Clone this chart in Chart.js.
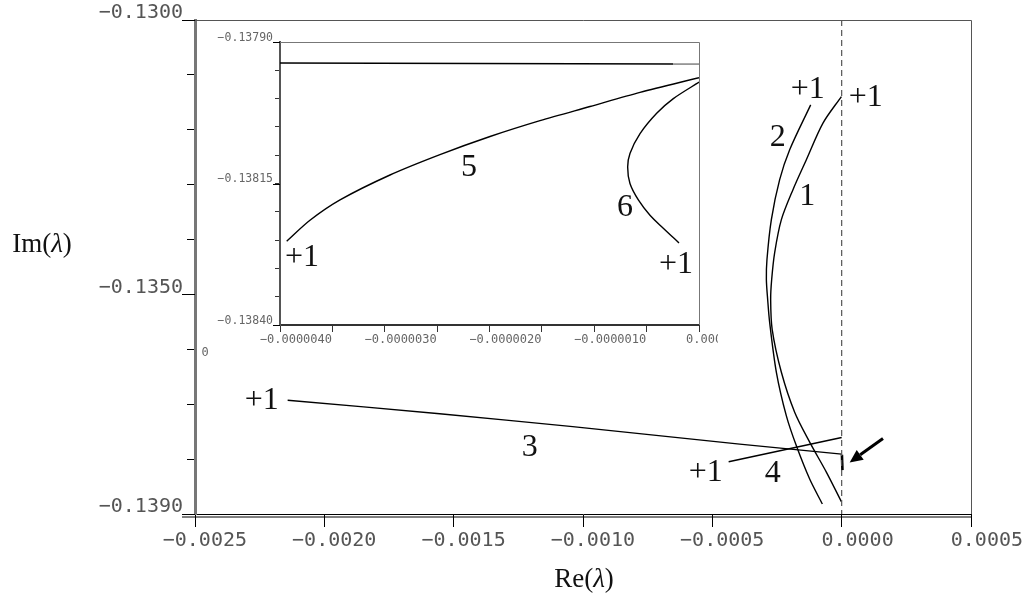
<!DOCTYPE html>
<html>
<head>
<meta charset="utf-8">
<script src="https://cdn.jsdelivr.net/npm/chart.js@4/dist/chart.umd.min.js"></script>
<style>
  html, body { margin: 0; padding: 0; background: #fff; }
  #wrap { position: relative; width: 1029px; height: 597px; }
  #main { position: absolute; left: 0; top: 0; }
  #inset { position: absolute; left: 199px; top: 28px; }
</style>
</head>
<body>
<div id="wrap">
  <canvas id="main" width="1029" height="597" style="width:1029px;height:597px"></canvas>
  <canvas id="inset" width="519" height="334" style="width:519px;height:334px"></canvas>
</div>
<script>
// ---------- main plot: Re(lambda) vs Im(lambda) ----------
const mainXTicks = [-0.0025, -0.0020, -0.0015, -0.0010, -0.0005, 0.0000, 0.0005];
const mainYTicks = [-0.130, -0.131, -0.132, -0.133, -0.134, -0.135, -0.136, -0.137, -0.138, -0.139];
const mainYLabelled = [-0.130, -0.135, -0.139];

// branch 1
const c1Re = [-0.000001, -0.0000723, -0.0001365, -0.0001883, -0.0002331, -0.000259, -0.0002706, -0.0002745, -0.0002687, -0.0002331, -0.0001817, -0.0001237, -0.0000592, -0.000001];
const c1Im = [-0.1313945, -0.1318782, -0.1325455, -0.1330909, -0.1336364, -0.1342364, -0.1347273, -0.1350909, -0.1356364, -0.1364182, -0.1371455, -0.1376909, -0.1382364, -0.1387764];
// branch 2
const c2Re = [-0.0001198, -0.000201, -0.0002397, -0.0002718, -0.0002888, -0.0002911, -0.0002861, -0.0002784, -0.0002524, -0.0002138, -0.0001751, -0.0001237, -0.0000746];
const c2Im = [-0.1315455, -0.1323636, -0.1329091, -0.1336364, -0.1343636, -0.1347273, -0.1350909, -0.1355091, -0.1364182, -0.1372127, -0.1377582, -0.1383636, -0.1388182];
// branch 3
const c3Re = [-0.0021418, -0.0015541, -0.00104, -0.0003943, 0];
const c3Im = [-0.1369273, -0.1371727, -0.1374091, -0.1377273, -0.1379091];
// short piece the arrow points at
const markRe = [0.0000010, 0.0000030];
const markIm = [-0.13792, -0.13820];
// branch 4
const c4Re = [-0.0004369, 0];
const c4Im = [-0.1380491, -0.1376055];
// Re = 0 reference line
const zeroRe = [0, 0];
const zeroIm = [-0.130, -0.139];
// arrow (tail, head)
const arrowRe = [0.0001597, 0.0000309];
const arrowIm = [-0.1376236, -0.1380600];

// curve labels
const labelText = ['+1', '+1', '2', '1', '+1', '4', '3', '+1'];
const labelRe = [-0.0001314, 0.0000928, -0.0002474, -0.0001334, -0.0005258, -0.0002668, -0.0012062, -0.0022423];
const labelIm = [-0.1312727, -0.1314182, -0.1321455, -0.1332091, -0.1382545, -0.1382727, -0.1377818, -0.1369273];

// ---------- inset ----------
const insetXTicks = [-0.0000040, -0.0000035, -0.0000030, -0.0000025, -0.0000020, -0.0000015, -0.0000010, -0.0000005, 0];
const insetXLabelled = [-0.0000040, -0.0000030, -0.0000020, -0.0000010, 0];
const insetYTicks = [-0.13790, -0.13795, -0.13800, -0.13805, -0.13810, -0.13815, -0.13820, -0.13825, -0.13830, -0.13835, -0.13840];
const insetYLabelled = [-0.13790, -0.13815, -0.13840];

// branch 5
const c5Re = [-0.000003936, -0.000003714, -0.000003427, -0.00000295, -0.000002473, -0.000001995, -0.000001518, -0.000001041, -0.000000563, 0];
const c5Im = [-0.138252, -0.138215, -0.138179, -0.138135, -0.138099, -0.138067, -0.138039, -0.138014, -0.137989, -0.137963];
// branch 6
const c6Re = [0, -0.000000245, -0.000000404, -0.000000563, -0.000000659, -0.000000681, -0.000000659, -0.000000579, -0.000000468, -0.000000341, -0.000000191];
const c6Im = [-0.137971, -0.138, -0.138026, -0.138062, -0.138097, -0.138121, -0.13815, -0.138179, -0.138206, -0.138229, -0.138255];
// nearly flat branch near the top
const flatRe = [-0.0000040, -0.000000248];
const flatIm = [-0.137937, -0.137939];
const flatTailRe = [-0.000000248, 0];
const flatTailIm = [-0.137939, -0.137939];

const insetLabelText = ['5', '6', '+1', '+1'];
const insetLabelRe = [-0.0000021958, -0.0000007065, -0.00000379, -0.0000002196];
const insetLabelIm = [-0.138122, -0.1381917, -0.1382809, -0.138294];

// ---------- helpers ----------
const zip = (xs, ys) => xs.map((x, i) => ({ x: x, y: ys[i] }));
const near = (v, list) => list.some(l => Math.abs(l - v) < 1e-12);
const fmt = (v, d) => {
  const s = Math.abs(v) < 1e-15 ? (0).toFixed(d) : v.toFixed(d);
  return s.replace('-', '\u2212');
};
const mono = 'DejaVu Sans Mono';
const serif = '"Liberation Serif", "Times New Roman", serif';

function line(re, im, extra) {
  return Object.assign({
    data: zip(re, im),
    showLine: true,
    pointRadius: 0,
    borderColor: '#000',
    borderWidth: 1.4,
    tension: 0.3,
    fill: false
  }, extra || {});
}

// text in serif, with λ in italic
function mathText(ctx, parts, cx, cy, size) {
  let w = 0;
  parts.forEach(p => {
    ctx.font = (p[1] ? 'italic ' : '') + size + 'px ' + serif;
    w += ctx.measureText(p[0]).width;
  });
  let x = cx - w / 2;
  ctx.textAlign = 'left';
  ctx.textBaseline = 'middle';
  parts.forEach(p => {
    ctx.font = (p[1] ? 'italic ' : '') + size + 'px ' + serif;
    ctx.fillText(p[0], x, cy);
    x += ctx.measureText(p[0]).width;
  });
}

// draws frame edges, curve labels and any extra decoration
const decor = {
  id: 'decor',
  afterDraw(chart, args, opts) {
    const { ctx, chartArea: a, scales } = chart;
    const sx = scales.x, sy = scales.y;
    ctx.save();
    // top and right edges of the frame
    ctx.lineWidth = 1;
    ctx.strokeStyle = opts.frameColor;
    ctx.beginPath();
    ctx.moveTo(a.left, a.top + 0.5);
    ctx.lineTo(a.right + 0.5, a.top + 0.5);
    ctx.lineTo(a.right + 0.5, a.bottom);
    ctx.stroke();
    // longer marks under the labelled y ticks
    ctx.strokeStyle = '#000';
    ctx.beginPath();
    opts.yLabelled.forEach(v => {
      const py = Math.round(sy.getPixelForValue(v)) + 0.5;
      ctx.moveTo(a.left - opts.longTick, py);
      ctx.lineTo(a.left, py);
    });
    ctx.stroke();
    // curve labels
    ctx.fillStyle = '#111';
    ctx.font = opts.labelSize + 'px ' + serif;
    ctx.textAlign = 'center';
    ctx.textBaseline = 'middle';
    opts.text.forEach((t, i) => {
      ctx.fillText(t, sx.getPixelForValue(opts.re[i]), sy.getPixelForValue(opts.im[i]));
    });
    if (opts.extra) opts.extra(ctx, chart);
    ctx.restore();
  }
};

// ---------- main chart ----------
new Chart(document.getElementById('main'), {
  type: 'scatter',
  data: {
    datasets: [
      line(zeroRe, zeroIm, { borderColor: '#555', borderWidth: 1.2, borderDash: [6, 4], tension: 0 }),
      line(c1Re, c1Im),
      line(c2Re, c2Im),
      line(c3Re, c3Im, { tension: 0.2 }),
      line(c4Re, c4Im, { tension: 0 }),
      line(markRe, markIm, { borderWidth: 2.6, tension: 0 })
    ]
  },
  options: {
    responsive: false,
    animation: false,
    devicePixelRatio: 1,
    layout: { padding: { left: 0, right: 58, top: 20, bottom: 0 } },
    plugins: {
      legend: { display: false },
      tooltip: { enabled: false },
      decor: {
        frameColor: '#555',
        yLabelled: mainYLabelled,
        longTick: 13,
        labelSize: 32,
        text: labelText, re: labelRe, im: labelIm,
        extra: (ctx, chart) => {
          const { chartArea: a, scales: { x, y } } = chart;
          // second line of the bottom axis
          ctx.strokeStyle = '#000';
          ctx.lineWidth = 1;
          ctx.beginPath();
          ctx.moveTo(a.left - 13, a.bottom + 3);
          ctx.lineTo(a.right + 1, a.bottom + 3);
          ctx.stroke();
          // arrow
          const x0 = x.getPixelForValue(arrowRe[0]), y0 = y.getPixelForValue(arrowIm[0]);
          const x1 = x.getPixelForValue(arrowRe[1]), y1 = y.getPixelForValue(arrowIm[1]);
          const ang = Math.atan2(y1 - y0, x1 - x0);
          const hl = 13, hw = 6;
          const bx = x1 - hl * Math.cos(ang), by = y1 - hl * Math.sin(ang);
          ctx.lineWidth = 3;
          ctx.beginPath();
          ctx.moveTo(x0, y0);
          ctx.lineTo(bx, by);
          ctx.stroke();
          ctx.fillStyle = '#000';
          ctx.beginPath();
          ctx.moveTo(x1, y1);
          ctx.lineTo(bx + hw * Math.sin(ang), by - hw * Math.cos(ang));
          ctx.lineTo(bx - hw * Math.sin(ang), by + hw * Math.cos(ang));
          ctx.closePath();
          ctx.fill();
          // axis titles
          ctx.fillStyle = '#111';
          mathText(ctx, [['Im(', false], ['\u03bb', true], [')', false]], 42, 245, 27);
          mathText(ctx, [['Re(', false], ['\u03bb', true], [')', false]], 584, 580, 27);
        }
      }
    },
    scales: {
      x: {
        type: 'linear',
        min: -0.0025, max: 0.0005,
        afterBuildTicks: s => { s.ticks = mainXTicks.map(v => ({ value: v })); },
        afterFit: s => { s.height = 83; },
        grid: { drawOnChartArea: false, drawTicks: true, tickLength: 13, tickColor: '#000', tickWidth: 1 },
        border: { display: true, color: '#000', width: 1 },
        ticks: {
          autoSkip: false, maxRotation: 0, minRotation: 0,
          align: 'end', labelOffset: 52, padding: 2,
          color: '#555', font: { family: mono, size: 20 },
          callback: v => fmt(v, 4)
        }
      },
      y: {
        type: 'linear',
        min: -0.139, max: -0.130,
        afterBuildTicks: s => { s.ticks = mainYTicks.map(v => ({ value: v })); },
        afterFit: s => { s.width = 195; },
        grid: { drawOnChartArea: false, drawTicks: true, tickLength: 8, tickColor: '#000', tickWidth: 1 },
        border: { display: true, color: '#777', width: 3 },
        ticks: {
          autoSkip: false, padding: 4, labelOffset: -7,
          color: '#555', font: { family: mono, size: 20 },
          callback: v => near(v, mainYLabelled) ? fmt(v, 4) : ''
        }
      }
    }
  },
  plugins: [decor]
});

// ---------- inset chart ----------
new Chart(document.getElementById('inset'), {
  type: 'scatter',
  data: {
    datasets: [
      line(flatRe, flatIm, { tension: 0 }),
      line(flatTailRe, flatTailIm, { borderColor: '#777', tension: 0 }),
      line(c5Re, c5Im),
      line(c6Re, c6Im)
    ]
  },
  options: {
    responsive: false,
    animation: false,
    devicePixelRatio: 1,
    layout: { padding: { left: 0, right: 19, top: 14, bottom: 0 } },
    plugins: {
      legend: { display: false },
      tooltip: { enabled: false },
      decor: {
        frameColor: '#777',
        yLabelled: insetYLabelled,
        longTick: 7,
        labelSize: 32,
        text: insetLabelText, re: insetLabelRe, im: insetLabelIm,
        extra: (ctx) => {
          ctx.fillStyle = '#666';
          ctx.font = '12px ' + mono;
          ctx.textAlign = 'center';
          ctx.textBaseline = 'middle';
          ctx.fillText('0', 6, 325);
        }
      }
    },
    scales: {
      x: {
        type: 'linear',
        min: -0.000004, max: 0,
        afterBuildTicks: s => { s.ticks = insetXTicks.map(v => ({ value: v })); },
        afterFit: s => { s.height = 37; },
        grid: { drawOnChartArea: false, drawTicks: true, tickLength: 7, tickColor: '#333', tickWidth: 1 },
        border: { display: true, color: '#333', width: 2 },
        ticks: {
          autoSkip: false, maxRotation: 0, minRotation: 0,
          align: 'end', labelOffset: 52, padding: 1,
          color: '#666', font: { family: mono, size: 12 },
          callback: v => near(v, insetXLabelled) ? fmt(v, 7) : ''
        }
      },
      y: {
        type: 'linear',
        min: -0.1384, max: -0.1379,
        afterBuildTicks: s => { s.ticks = insetYTicks.map(v => ({ value: v })); },
        afterFit: s => { s.width = 81; },
        grid: { drawOnChartArea: false, drawTicks: true, tickLength: 5, tickColor: '#333', tickWidth: 1 },
        border: { display: true, color: '#555', width: 2 },
        ticks: {
          autoSkip: false, padding: 2, labelOffset: -4,
          color: '#666', font: { family: mono, size: 11.5 },
          callback: v => near(v, insetYLabelled) ? fmt(v, 5) : ''
        }
      }
    }
  },
  plugins: [decor]
});
</script>
</body>
</html>
